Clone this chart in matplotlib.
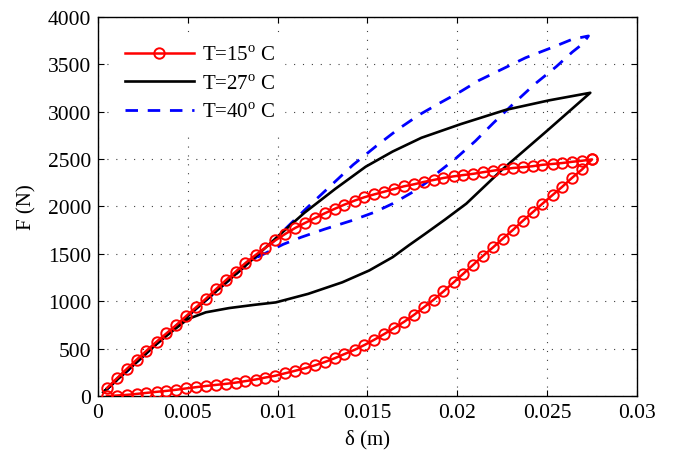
import matplotlib
matplotlib.use("Agg")
import matplotlib.pyplot as plt

plt.rcParams['font.family'] = ['Liberation Serif', 'DejaVu Serif']
plt.rcParams['mathtext.fontset'] = 'custom'
plt.rcParams['mathtext.rm'] = 'Liberation Serif'

# T = 15 C, both branches sampled on the same displacement grid
x_15 = [0.00050, 0.00105, 0.00160, 0.00215, 0.00270, 0.00326, 0.00381, 0.00436, 0.00491, 0.00546,
        0.00601, 0.00656, 0.00711, 0.00766, 0.00821, 0.00877, 0.00932, 0.00987, 0.01042, 0.01097,
        0.01152, 0.01207, 0.01262, 0.01317, 0.01372, 0.01428, 0.01483, 0.01538, 0.01593, 0.01648,
        0.01703, 0.01758, 0.01813, 0.01868, 0.01923, 0.01979, 0.02034, 0.02089, 0.02144, 0.02199,
        0.02254, 0.02309, 0.02364, 0.02419, 0.02474, 0.02530, 0.02585, 0.02640, 0.02695, 0.02750]
f_15_up = [84, 186, 285, 383, 478, 573, 661, 749, 844, 936,
           1027, 1126, 1221, 1312, 1404, 1488, 1565, 1642, 1710, 1773,
           1826, 1877, 1928, 1975, 2020, 2062, 2098, 2128, 2156, 2185,
           2213, 2234, 2259, 2280, 2301, 2318, 2332, 2345, 2362, 2378,
           2393, 2406, 2415, 2425, 2440, 2449, 2459, 2472, 2483, 2497]
f_15_down = [0, 5, 12, 22, 33, 44, 54, 66, 80, 93,
             106, 117, 128, 141, 157, 174, 195, 214, 240, 266,
             293, 323, 358, 398, 443, 487, 538, 594, 654, 717,
             782, 855, 935, 1016, 1104, 1198, 1292, 1386, 1481, 1569,
             1662, 1752, 1848, 1939, 2030, 2121, 2210, 2305, 2392, 2497]

# T = 27 C
x_27_up = [0.0003, 0.002, 0.004, 0.006, 0.008, 0.009, 0.0101, 0.0115, 0.0132, 0.0149,
           0.0164, 0.018, 0.0202, 0.0227, 0.0251, 0.0274]
f_27_up = [40, 330, 680, 1010, 1340, 1510, 1700, 1935, 2185, 2420,
           2580, 2725, 2870, 3020, 3120, 3200]
x_27_down = [0.0274, 0.025, 0.0225, 0.0205, 0.0193, 0.0182, 0.0173, 0.0164, 0.0151, 0.0136,
             0.0117, 0.0099, 0.0087, 0.0073, 0.006, 0.005, 0.0041, 0.003, 0.0015, 0.0003]
f_27_down = [3200, 2800, 2390, 2030, 1860, 1710, 1590, 1465, 1325, 1200,
             1078, 988, 962, 928, 883, 812, 679, 510, 260, 40]

# T = 40 C
x_40_up = [0.0003, 0.002, 0.004, 0.006, 0.008, 0.0093, 0.0103, 0.0116, 0.0129, 0.0142,
           0.0155, 0.0167, 0.0179, 0.0191, 0.0202, 0.0212, 0.0225, 0.0238, 0.0253, 0.0264, 0.0273]
f_40_up = [40, 330, 680, 1010, 1340, 1540, 1740, 1980, 2210, 2440,
           2640, 2815, 2970, 3100, 3215, 3330, 3450, 3570, 3680, 3765, 3800]
x_40_down = [0.0273, 0.0270, 0.0264, 0.0255, 0.0243, 0.0231, 0.0220, 0.0210, 0.0199, 0.0190,
             0.0183, 0.0175, 0.0164, 0.0154, 0.0141, 0.0126, 0.0113, 0.0103, 0.0093, 0.0085,
             0.006, 0.004, 0.002, 0.0003]
f_40_down = [3800, 3720, 3630, 3475, 3290, 3080, 2880, 2690, 2505, 2370,
             2255, 2150, 2030, 1940, 1850, 1760, 1675, 1600, 1505, 1430,
             1010, 680, 330, 40]

labels = ['T=15$^{\\rm o}$ C', 'T=27$^{\\rm o}$ C', 'T=40$^{\\rm o}$ C']
x_ticks = [0, 0.005, 0.01, 0.015, 0.02, 0.025, 0.03]
x_tick_labels = ['0', '0.005', '0.01', '0.015', '0.02', '0.025', '0.03']
y_ticks = [0, 500, 1000, 1500, 2000, 2500, 3000, 3500, 4000]

fig = plt.figure(figsize=(6.73, 4.52), dpi=100)
ax = fig.add_axes([0.1456, 0.1217, 0.8009, 0.8385])

ax.plot(x_15 + x_15[::-1], f_15_up + f_15_down[::-1], color='red', lw=1.8,
        marker='o', markersize=7.5, markerfacecolor='none', markeredgewidth=1.4,
        label=labels[0], zorder=4)
ax.plot(x_27_up + x_27_down, f_27_up + f_27_down, color='black', lw=1.9,
        label=labels[1], zorder=3)
ax.plot(x_40_up + x_40_down, f_40_up + f_40_down, color='blue', lw=2.0,
        linestyle=(0, (4.5, 3.5)), label=labels[2], zorder=2)

ax.set_xlim(0, 0.03)
ax.set_ylim(0, 4000)
ax.set_xticks(x_ticks)
ax.set_xticklabels(x_tick_labels)
ax.set_yticks(y_ticks)
ax.tick_params(direction='in', top=True, right=True, length=4, width=0.8,
               labelsize=15.5, pad=5)
ax.grid(True, linestyle=(0, (1, 7)), color='0.25', linewidth=0.8)
for s in ax.spines.values():
    s.set_linewidth(1.0)

ax.set_xlabel('δ (m)', fontsize=15, labelpad=5)
ax.set_ylabel('F (N)', fontsize=15, labelpad=8)

leg = ax.legend(loc='upper left', fontsize=15, frameon=True, fancybox=False,
                edgecolor='white', framealpha=1, handlelength=3.3,
                borderaxespad=0.6, labelspacing=0.43, handletextpad=0.43,
                bbox_to_anchor=(0.011, 0.98))
for h in leg.legend_handles:
    if h.get_marker() == 'o':
        h.set_markevery([1])

fig.savefig('out.png', dpi=100)
